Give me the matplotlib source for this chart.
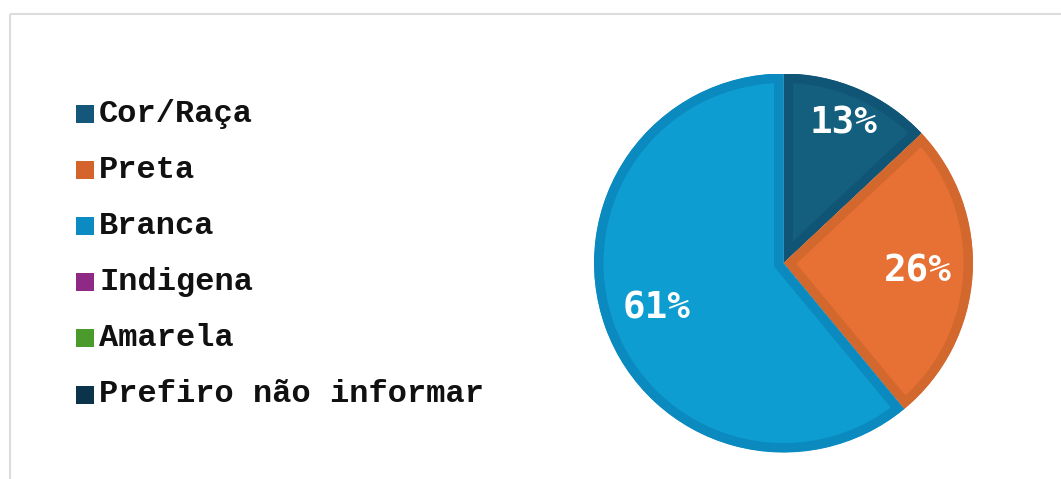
import numpy as np
import matplotlib
matplotlib.use("Agg")
import matplotlib.pyplot as plt
from matplotlib.patches import Rectangle, Wedge

categories = ["Cor/Raça", "Preta", "Branca", "Indigena", "Amarela", "Prefiro não informar"]
values = [13, 26, 61, 0, 0, 0]
fill_colors = ["#155f7e", "#e77134", "#0e9dd1", "#8e2a85", "#4a9a2c", "#0b3349"]
edge_colors = ["#115576", "#d3682e", "#0b8ac0", "#7e2476", "#3f8a25", "#092b3e"]
legend_colors = ["#14577a", "#d4632c", "#0b8bc1", "#8e2a85", "#4a9a2c", "#0b3349"]

W, H = 1061, 479
fig = plt.figure(figsize=(W / 100, H / 100), dpi=100)
fig.patch.set_facecolor("white")

# background axes in pixel coordinates
bg = fig.add_axes([0, 0, 1, 1])
bg.set_xlim(0, W)
bg.set_ylim(H, 0)
bg.axis("off")
bg.add_patch(Rectangle((10, 14), W + 20, H + 20, fill=False, edgecolor="#dcdcdc", linewidth=1.5))

# legend
for i, (cat, col) in enumerate(zip(categories, legend_colors)):
    y = 113.5 + i * 56.2
    bg.add_patch(Rectangle((76, y - 9), 18, 18, facecolor=col, edgecolor="none"))
    bg.text(99, y, cat, fontsize=23, fontfamily="Liberation Mono", fontweight="bold",
            color="#111111", va="center", ha="left")

# pie axes
cx, cy, r = 783.5, 263, 189.5
pax = fig.add_axes([(cx - r) / W, 1 - (cy + r) / H, 2 * r / W, 2 * r / H])
shown = [i for i, v in enumerate(values) if v > 0]
pie_vals = [values[i] for i in shown]
wedges, _ = pax.pie(pie_vals, colors=[fill_colors[i] for i in shown], startangle=90,
                    counterclock=False, radius=1.0, center=(0, 0), frame=False)
pax.set_xlim(-1, 1)
pax.set_ylim(-1, 1)
pax.axis("off")
lw = 19 * 72 / 100
for w, i in zip(wedges, shown):
    w.set_edgecolor(edge_colors[i])
    w.set_linewidth(lw)
    w.set_joinstyle("miter")
    clip = Wedge((0, 0), 1.0, w.theta1, w.theta2, transform=pax.transData)
    w.set_clip_path(clip)
    w.set_clip_on(True)

dists = {0: 0.8, 1: 0.71, 2: 0.71}
for w, i in zip(wedges, shown):
    ang = np.deg2rad((w.theta1 + w.theta2) / 2)
    d = dists.get(i, 0.7)
    pax.text(d * np.cos(ang), d * np.sin(ang), f"{values[i]}%", fontsize=27,
             fontfamily="DejaVu Sans Mono", fontweight="bold", color="white",
             ha="center", va="center")

fig.savefig("out.png", dpi=100)
